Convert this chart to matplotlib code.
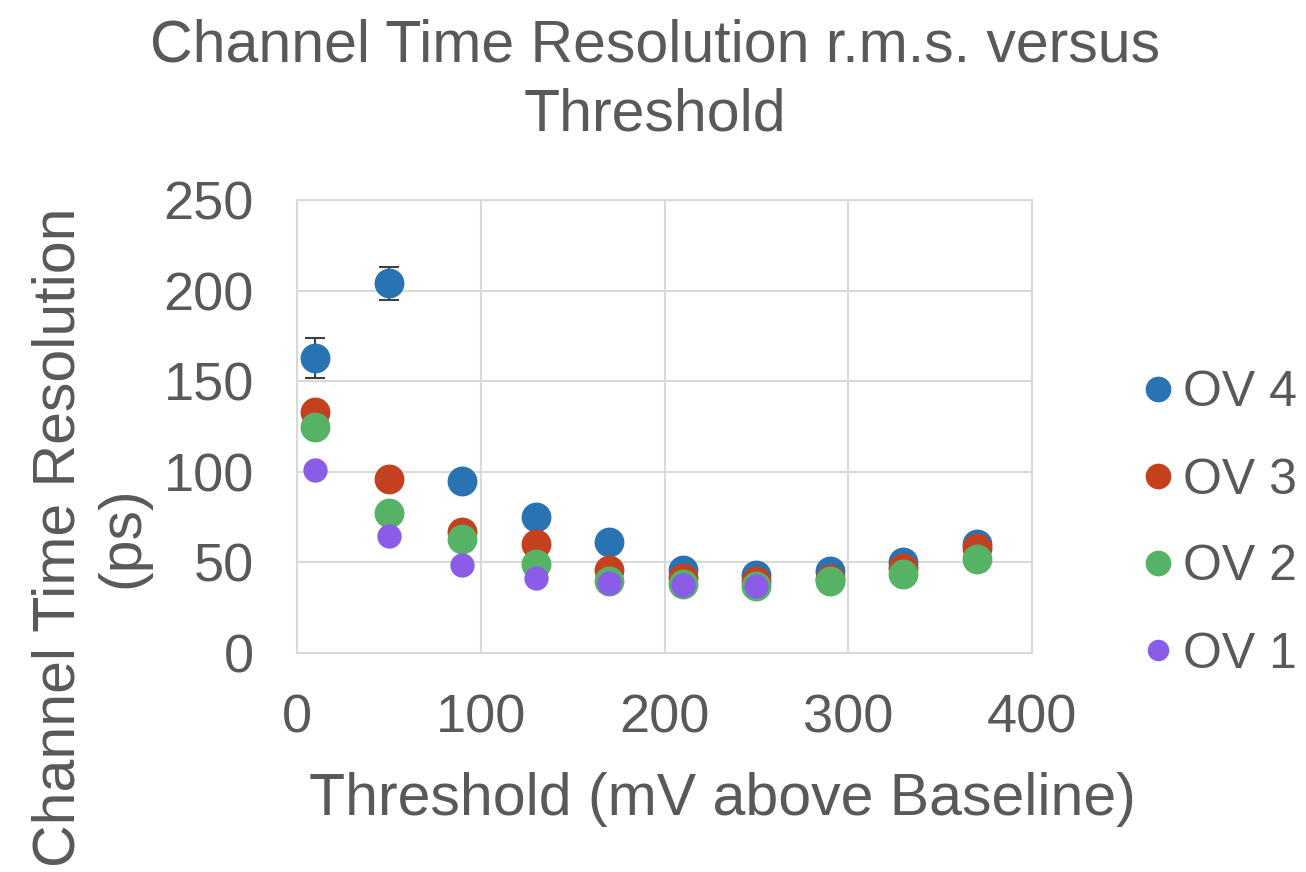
import matplotlib
matplotlib.use("Agg")
import matplotlib.pyplot as plt
from matplotlib.lines import Line2D

plt.rcParams['font.family'] = ['Liberation Sans', 'DejaVu Sans']

# Data
thresholds = [10, 50, 90, 130, 170, 210, 250, 290, 330, 370]
thresholds_ov1 = [10, 50, 90, 130, 170, 210, 250]
ov4 = [163, 204, 95, 75, 61, 46, 43, 45, 50, 60]
ov4_err = [11, 9, 0, 0, 0, 0, 0, 0, 0, 0]
ov3 = [133, 96, 67, 60, 46, 41.5, 40, 41, 47, 58]
ov2 = [125, 77, 63, 49, 39.5, 38, 37, 39.5, 43.5, 52]
ov1 = [101, 64.5, 48.5, 41.5, 38.7, 37.5, 37]
labels = ["OV 4", "OV 3", "OV 2", "OV 1"]
colors = ["#2a73b3", "#c4401f", "#56b366", "#8a5ce8"]

series = [
    (thresholds, ov4, 21.5, 18.5),
    (thresholds, ov3, 21.5, 18.5),
    (thresholds, ov2, 21.5, 18.5),
    (thresholds_ov1, ov1, 17.5, 15.5),
]

TXT = "#595959"
GRID = "#d9d9d9"

fig = plt.figure(figsize=(13.06, 8.72), dpi=100)
ax = fig.add_axes([297/1306, 1-653/872, (1032-297)/1306, (653-200)/872])

# error bars for OV 4
ax.errorbar(thresholds, ov4, yerr=ov4_err, fmt='none', ecolor='#404040',
            elinewidth=1.5, capsize=7.5, capthick=1.5, zorder=2)

for i, ((xs, ys, ms, _), lab, col) in enumerate(zip(series, labels, colors)):
    ax.plot(xs, ys, linestyle='none', marker='o', markersize=ms,
            color=col, markeredgewidth=0, label=lab, zorder=3 + i)

ax.set_xlim(0, 400)
ax.set_ylim(0, 250)
ax.set_xticks([0, 100, 200, 300, 400])
ax.set_yticks([0, 50, 100, 150, 200, 250])
ax.grid(True, color=GRID, linewidth=1.5)
ax.set_axisbelow(True)
for s in ax.spines.values():
    s.set_color(GRID)
    s.set_linewidth(1.5)
ax.tick_params(length=0, labelsize=39, labelcolor=TXT)
ax.tick_params(axis='x', pad=29)
ax.tick_params(axis='y', pad=31)

ax.set_xlabel("Threshold (mV above Baseline)", fontsize=42.5, color=TXT, va='top')
ax.xaxis.set_label_coords((722-297)/735, (653-772)/453)
ax.set_ylabel("Channel Time Resolution\n(ps)", fontsize=42.5, color=TXT,
              linespacing=1.2)
ax.yaxis.set_label_coords((150-297)/735, (653-537)/453)

fig.text(655/1306, 1-18/872, "Channel Time Resolution r.m.s. versus\nThreshold",
         fontsize=42.5, color=TXT, ha='center', va='top', linespacing=1.33)

leg_handles = [Line2D([], [], linestyle='none', marker='o', color=c,
                      markersize=s[3], markeredgewidth=0)
               for s, c in zip(series, colors)]
leg = fig.legend(leg_handles, labels, loc='center left',
                 bbox_to_anchor=(1118/1306, 1-524/872), frameon=False,
                 fontsize=36, labelcolor=TXT, handlelength=0.6,
                 handletextpad=0.2, labelspacing=0.82, borderpad=0)

fig.savefig("out.png", dpi=100)
